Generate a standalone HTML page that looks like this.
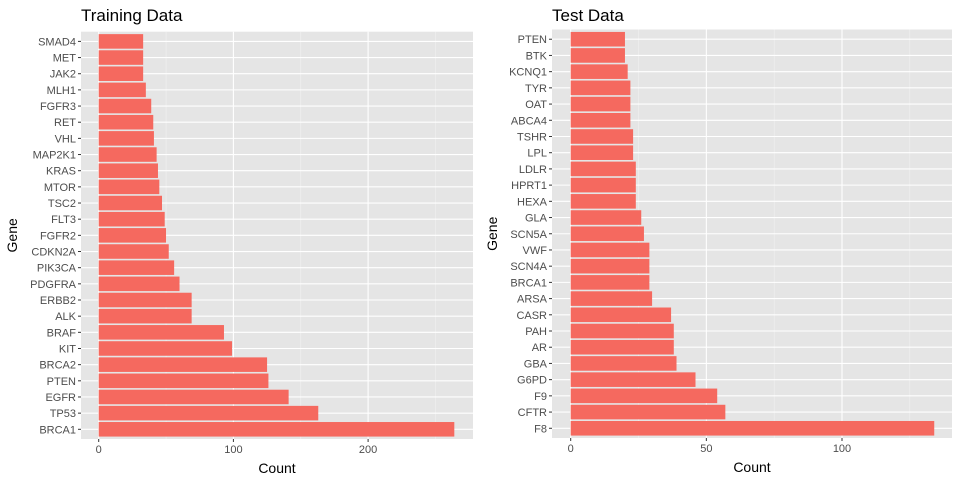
<!DOCTYPE html>
<html><head><meta charset="utf-8"><style>
body{margin:0;background:#fff;}
svg{display:block;font-family:"Liberation Sans",Arial,sans-serif;}
</style></head><body>
<svg id="chart" width="960" height="480"></svg>
<script>
const trainGenes=["BRCA1","TP53","EGFR","PTEN","BRCA2","KIT","BRAF","ALK","ERBB2","PDGFRA","PIK3CA","CDKN2A","FGFR2","FLT3","TSC2","MTOR","KRAS","MAP2K1","VHL","RET","FGFR3","MLH1","JAK2","MET","SMAD4"];
const trainCounts=[264,163,141,126,125,99,93,69,69,60,56,52,50,49,47,45,44,43,41,40.5,39,35,33,33,33];
const trainTicks=[0,100,200];
const testGenes=["F8","CFTR","F9","G6PD","GBA","AR","PAH","CASR","ARSA","BRCA1","SCN4A","VWF","SCN5A","GLA","HEXA","HPRT1","LDLR","LPL","TSHR","ABCA4","OAT","TYR","KCNQ1","BTK","PTEN"];
const testCounts=[134,57,54,46,39,38,38,37,30,29,29,29,27,26,24,24,24,23,23,22,22,22,21,20,20];
const testTicks=[0,50,100];

const NS="http://www.w3.org/2000/svg";
const svg=document.getElementById('chart');
function mk(tag,attrs,parent,name){const e=document.createElementNS(NS,tag);for(const k in attrs)e.setAttribute(k,attrs[k]);


(parent||svg).appendChild(e);return e;}

function panel(p){
  const g=mk('g',{},svg,p.id);
  const x=v=>p.x0+v*p.scale;
  const n=p.genes.length;
  const step=(p.bottom-p.top)/(n+0.2);
  const y=i=>p.bottom-(0.6+i)*step;
  mk('rect',{x:p.left,y:p.top,width:p.right-p.left,height:p.bottom-p.top,fill:'#e5e5e5'},g,'plot-background');
  for(let k=0;k<p.ticks.length;k++){const mv=p.ticks[k]+p.minor;const mx=x(mv);if(mx<p.right)mk('line',{x1:mx,x2:mx,y1:p.top,y2:p.bottom,stroke:'#f2f2f2','stroke-width':0.6},g,'minor-gridline');}
  const fv=p.ticks[0]-p.minor;if(x(fv)>p.left)mk('line',{x1:x(fv),x2:x(fv),y1:p.top,y2:p.bottom,stroke:'#f2f2f2','stroke-width':0.6},g,'minor-gridline');
  for(let i=0;i<n;i++)mk('line',{x1:p.left,x2:p.right,y1:y(i),y2:y(i),stroke:'#fff','stroke-width':1.1},g,'major-gridline');
  p.ticks.forEach(t=>{mk('line',{x1:x(t),x2:x(t),y1:p.top,y2:p.bottom,stroke:'#fff','stroke-width':1.1},g,'major-gridline');
    mk('line',{x1:x(t),x2:x(t),y1:p.bottom,y2:p.bottom+3,stroke:'#333','stroke-width':1},g,'x-tick');
    const tt=mk('text',{x:x(t),y:p.bottom+14,'text-anchor':'middle','font-size':11,fill:'#4d4d4d'},g,'x-tick-label');tt.textContent=t;});
  p.genes.forEach((gn,i)=>{
    const c=p.counts[i];
    mk('rect',{x:x(0),y:y(i)-0.45*step,width:x(c)-x(0),height:0.9*step,fill:'#f5695f'},g,'bar-'+gn.toLowerCase());
    mk('line',{x1:p.left-3,x2:p.left,y1:y(i),y2:y(i),stroke:'#333','stroke-width':1},g,'y-tick');
    const t=mk('text',{x:p.left-5,y:y(i)+4,'text-anchor':'end','font-size':11,fill:'#4d4d4d'},g,'y-tick-label');t.textContent=gn;
  });
  const xt=mk('text',{x:(p.left+p.right)/2,y:p.bottom+34,'text-anchor':'middle','font-size':14,fill:'#000'},g,'x-axis-title');xt.textContent='Count';
  const yt=mk('text',{x:0,y:0,'text-anchor':'middle','font-size':14,fill:'#000',transform:`translate(${p.ytx},${(p.top+p.bottom)/2}) rotate(-90)`},g,'y-axis-title');yt.textContent='Gene';
  const ti=mk('text',{x:p.left,y:21,'font-size':17,fill:'#000'},g,'panel-title');ti.textContent=p.title;
}
panel({id:'training-panel',title:'Training Data',genes:trainGenes,counts:trainCounts,ticks:trainTicks,minor:50,left:81,right:473,top:31.7,bottom:439,x0:98.7,scale:1.347,ytx:17});
panel({id:'test-panel',title:'Test Data',genes:testGenes,counts:testCounts,ticks:testTicks,minor:25,left:552,right:952,top:29.5,bottom:438,x0:570.7,scale:2.713,ytx:497});
</script>
</body></html>
